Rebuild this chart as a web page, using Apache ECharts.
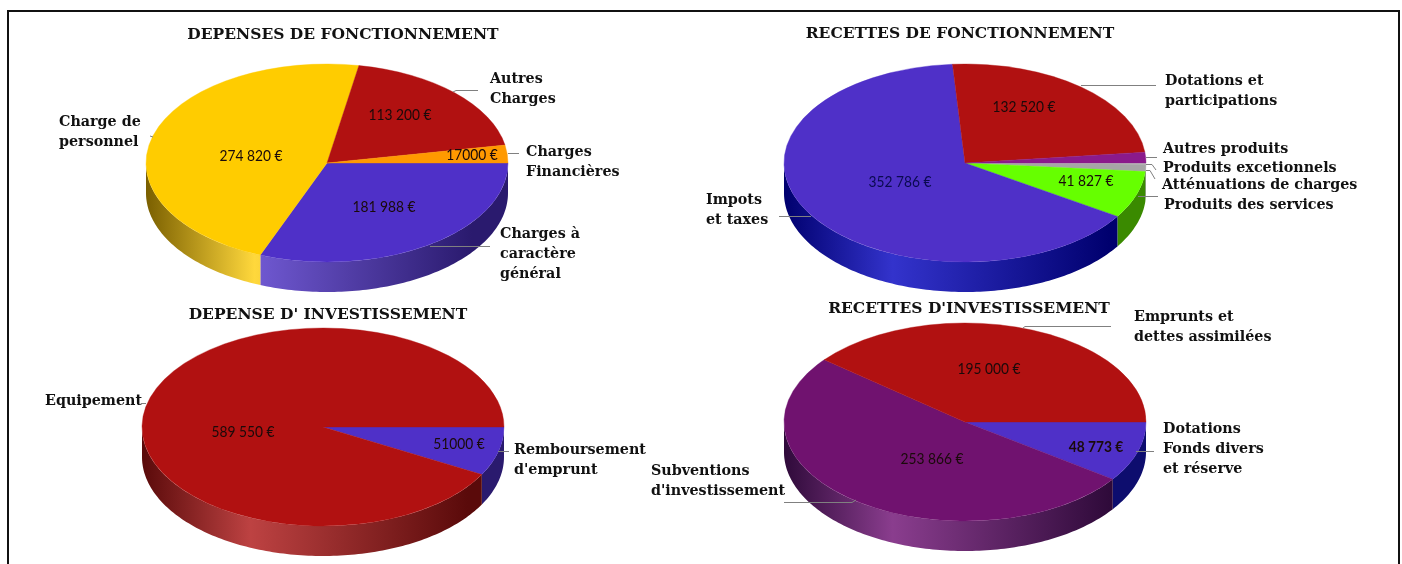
<!DOCTYPE html>
<html lang="fr">
<head>
    <meta charset="UTF-8">
    <title>Budget</title>
    <style>
        html,body{
            margin: 0;
            height: 100%;
            background: #fff;
        }
        #main{
            width: 1402px;
            height: 564px;
        }
    </style>
    <script src="https://cdn.jsdelivr.net/npm/echarts@6/dist/echarts.min.js"></script>
</head>
<body>
<div id="main"></div>
<script>
    // data, slices run clockwise from the east point of each pie
    var depFonctNames = ['Charges à\ncaractère\ngénéral', 'Charge de\npersonnel', 'Autres\nCharges', 'Charges\nFinancières'];
    var depFonctValues = [181988, 274820, 113200, 17000];
    var depFonctLabels = ['181 988 €', '274 820 €', '113 200 €', '17000 €'];

    var recFonctNames = ['Produits excetionnels', 'Atténuations de charges', 'Produits des services', 'Impots\net taxes', 'Dotations et\nparticipations', 'Autres produits'];
    var recFonctValues = [1000, 6500, 41827, 352786, 132520, 9500]; // the 3 small ones are estimated
    var recFonctLabels = ['', '', '41 827 €', '352 786 €', '132 520 €', ''];

    var depInvestNames = ["Remboursement\nd'emprunt", 'Equipement'];
    var depInvestValues = [51000, 589550];
    var depInvestLabels = ['51000 €', '589 550 €'];

    var recInvestNames = ['Dotations\nFonds divers\net réserve', "Subventions\nd'investissement", 'Emprunts et\ndettes assimilées'];
    var recInvestValues = [48773, 253866, 195000];
    var recInvestLabels = ['48 773 €', '253 866 €', '195 000 €'];

    var titles = ['DEPENSES DE FONCTIONNEMENT', 'RECETTES DE FONCTIONNEMENT', "DEPENSE D' INVESTISSEMENT", "RECETTES D'INVESTISSEMENT"];

    // layout and colours
    var RED = {top: '#b11111', dark: '#5a0a0a', light: '#bd4242'};
    var BLUE = {top: '#4f30c8', dark: '#2a1a6e', light: '#7059d2'};
    var SERIF = '"DejaVu Serif"';

    var pies = [
        {
            names: depFonctNames, values: depFonctValues, labels: depFonctLabels,
            cx: 327, cy: 163,
            colors: [
                BLUE,
                {top: '#ffcc00', dark: '#7a5f00', light: '#ffd83c'},
                RED,
                {top: '#ff9900', dark: '#b36b00', light: '#ff9900'}
            ],
            namePos: [[500, 224], [59, 112], [490, 69], [526, 142]],
            valuePos: [[384, 207], [251, 156], [400, 115], [472, 155]]
        },
        {
            names: recFonctNames, values: recFonctValues, labels: recFonctLabels,
            cx: 965, cy: 163,
            colors: [
                {top: '#c4c4c4', dark: '#808080', light: '#808080'},
                {top: '#a6a6a6', dark: '#808080', light: '#808080'},
                {top: '#66ff00', dark: '#3a8a00', light: '#3a8a00'},
                {top: '#4f30c8', dark: '#00006e', light: '#3333cc'},
                RED,
                {top: '#8b1a8b', dark: '#5a105a', light: '#5a105a'}
            ],
            namePos: [[1163, 158], [1162, 175], [1164, 195], [706, 190], [1165, 71], [1163, 139]],
            valuePos: [null, null, [1086, 181], [900, 182], [1024, 107], null],
            valueColors: [null, null, null, '#0a0a50']
        },
        {
            names: depInvestNames, values: depInvestValues, labels: depInvestLabels,
            cx: 323, cy: 427,
            colors: [BLUE, RED],
            namePos: [[514, 440], [45, 391]],
            valuePos: [[459, 444], [243, 432]]
        },
        {
            names: recInvestNames, values: recInvestValues, labels: recInvestLabels,
            cx: 965, cy: 422,
            colors: [
                {top: '#4f30c8', dark: '#0d0d6e', light: '#0d0d6e'},
                {top: '#70126f', dark: '#2f0a3a', light: '#8a3d8e'},
                RED
            ],
            namePos: [[1163, 419], [651, 461], [1134, 307]],
            valuePos: [[1096, 447], [932, 459], [989, 369]],
            valueWeights: ['bold']
        }
    ];
    var RX = 181, RY = 99, DEPTH = 30;

    var titlePos = [[343, 27], [960, 26], [328, 307], [969, 301]];

    // leader lines
    var leaders = [
        [[453, 92], [456, 90.5], [478, 90.5]],
        [[150, 136], [153, 137]],
        [[508, 153.5], [519, 153.5]],
        [[430, 246.5], [490, 246.5]],
        [[1081, 85.5], [1156, 85.5]],
        [[1146, 157.5], [1157, 157.5]],
        [[1146, 164.5], [1152, 164.5], [1156, 170]],
        [[1146, 170.5], [1150, 170.5], [1155, 179]],
        [[1138, 196.5], [1158, 196.5]],
        [[779, 216.5], [811, 216.5]],
        [[141, 403.5], [146, 403.5]],
        [[498, 451.5], [509, 451.5]],
        [[1023, 328], [1025, 326.5], [1111, 326.5]],
        [[1136, 451.5], [1154, 451.5]],
        [[784, 502.5], [852, 502.5], [856, 500]]
    ];

    function wallGradient(pie, col) {
        // one light band over the whole width of the pie, dark on both sides
        return new echarts.graphic.LinearGradient(pie.cx - RX, 0, pie.cx + RX, 0, [
            {offset: 0, color: col.dark},
            {offset: 0.3, color: col.light},
            {offset: 0.9, color: col.dark},
            {offset: 1, color: col.dark}
        ], true);
    }

    function wallPoints(pie, a0, a1) {
        // only the front half of the rim can be seen
        var start = Math.max(a0, 0), end = Math.min(a1, Math.PI);
        if (end <= start) return null;
        var top = [], bottom = [], n = Math.max(2, Math.ceil((end - start) / 0.02));
        for (var i = 0; i <= n; i++) {
            var a = start + (end - start) * i / n;
            var x = pie.cx + RX * Math.cos(a), y = pie.cy + RY * Math.sin(a);
            top.push([x, y]);
            bottom.unshift([x, y + DEPTH]);
        }
        return top.concat(bottom);
    }

    function makeSeries(pie) {
        var total = pie.values.reduce(function (s, v) { return s + v; }, 0);
        var angles = [0];
        pie.values.forEach(function (v, i) {
            angles.push(angles[i] + v / total * Math.PI * 2);
        });
        return {
            type: 'custom',
            coordinateSystem: 'none',
            silent: true,
            animation: false,
            data: pie.values.map(function (v) { return [v]; }),
            renderItem: function (params) {
                var i = params.dataIndex;
                var col = pie.colors[i];
                var a0 = angles[i], a1 = angles[i + 1];
                var children = [];
                var pts = wallPoints(pie, a0, a1);
                if (pts) {
                    children.push({
                        type: 'polygon',
                        shape: {points: pts},
                        style: {fill: wallGradient(pie, col)}
                    });
                }
                children.push({
                    type: 'sector',
                    x: pie.cx,
                    y: pie.cy,
                    scaleY: RY / RX,
                    shape: {cx: 0, cy: 0, r0: 0, r: RX, startAngle: a0, endAngle: a1, clockwise: true},
                    style: {fill: col.top, stroke: col.top, lineWidth: 0.5}
                });
                children.push({
                    type: 'text',
                    z2: 10,
                    style: {
                        text: pie.names[i],
                        x: pie.namePos[i][0],
                        y: pie.namePos[i][1],
                        fontFamily: SERIF,
                        fontSize: 14.3,
                        fontWeight: 'bold',
                        lineHeight: 20,
                        fill: '#111',
                        align: 'left',
                        verticalAlign: 'top'
                    }
                });
                if (pie.valuePos[i]) {
                    // the amounts are a narrower face than Lato, so squeeze them a bit
                    children.push({
                        type: 'text',
                        z2: 10,
                        x: pie.valuePos[i][0],
                        y: pie.valuePos[i][1],
                        scaleX: 0.86,
                        style: {
                            text: pie.labels[i],
                            fontFamily: 'Lato',
                            fontSize: 16,
                            fontWeight: (pie.valueWeights && pie.valueWeights[i]) || 'normal',
                            fill: (pie.valueColors && pie.valueColors[i]) || '#1a0a0a',
                            align: 'center',
                            verticalAlign: 'middle'
                        }
                    });
                }
                return {type: 'group', children: children};
            }
        };
    }

    var graphics = [{
        type: 'rect',
        shape: {x: 8, y: 11, width: 1391, height: 700},
        style: {fill: 'none', stroke: '#111', lineWidth: 2},
        z: -1
    }];
    leaders.forEach(function (pts) {
        graphics.push({
            type: 'polyline',
            shape: {points: pts},
            style: {fill: 'none', stroke: '#808080', lineWidth: 1},
            z: 5
        });
    });

    var chart = echarts.init(document.getElementById('main'), null, {renderer: 'canvas'});
    chart.setOption({
        backgroundColor: '#fff',
        animation: false,
        title: titles.map(function (t, i) {
            return {
                text: t,
                left: titlePos[i][0],
                top: titlePos[i][1],
                textAlign: 'center',
                padding: 0,
                textStyle: {fontFamily: SERIF, fontSize: 15.5, fontWeight: 'bold', color: '#111'}
            };
        }),
        graphic: graphics,
        series: pies.map(makeSeries)
    });
</script>
</body>
</html>
